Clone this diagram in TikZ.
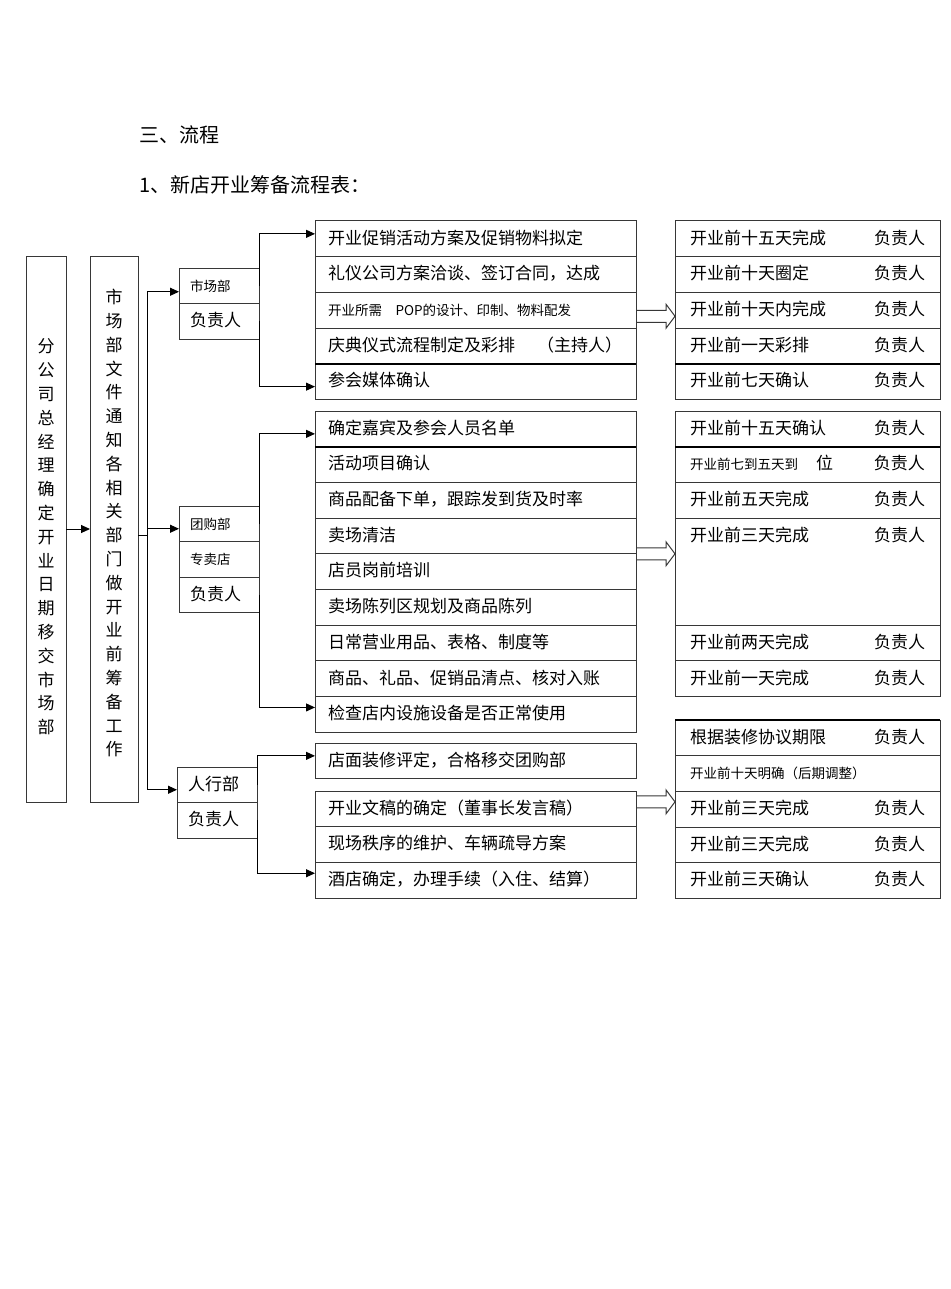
\documentclass[tikz,border=0pt]{standalone}
\usepackage{fontspec}
\setmainfont{Noto Sans CJK SC}
\usetikzlibrary{arrows.meta,positioning,calc}
\definecolor{edge}{RGB}{55,55,55}
\tikzset{
  every picture/.style={font=\fontsize{17}{20}\selectfont},
  cell/.style={draw=edge,line width=1pt,outer sep=0pt,anchor=north west,inner xsep=13pt,inner ysep=0pt,
    minimum height=35.7pt,text height=14pt,text depth=3.5pt,align=left},
  task/.style={cell,text width=295pt},
  due/.style={cell,inner xsep=15pt,text width=235pt},
  dept/.style={cell,inner xsep=11pt,text width=58pt,minimum height=35.5pt},
  tall/.style={draw=edge,line width=1pt,outer sep=0pt,inner sep=0pt,align=center,font=\fontsize{17}{23.8}\selectfont},
  link/.style={line width=1pt,-{Triangle[length=9pt,width=8pt]}},
  hollow/.style={draw=edge,line width=1pt},
  smalltext/.style={font=\fontsize{13.5}{16}\selectfont},
  seam/.style={draw=black,line width=2pt},
}

\begin{document}
\begin{tikzpicture}[x=1pt,y=-1pt,node distance=0pt]
  \useasboundingbox (0,0) rectangle (950,1289);
  \node[anchor=west,font=\fontsize{20}{22}\selectfont] (title) at (136,135) {三、流程};
  \node[anchor=west,font=\fontsize{20}{22}\selectfont] (subtitle) at (136,185) {1、新店开业筹备流程表：};

  \node[tall,minimum width=40pt,minimum height=546pt] (boss) at (46,529)
    {\rule{0pt}{30pt}分\\公\\司\\总\\经\\理\\确\\定\\开\\业\\日\\期\\移\\交\\市\\场\\部};
  \node[tall,minimum width=48pt,minimum height=546pt] (notice) at (114,529)
    {市\\场\\部\\文\\件\\通\\知\\各\\相\\关\\部\\门\\做\\开\\业\\前\\筹\\备\\工\\作\rule[-13pt]{0pt}{1pt}};

  % departments
  \node[dept,smalltext] (mkt) at (179,268) {市场部};
  \node[dept,below=of mkt] (mktr) {负责人};
  \node[dept,smalltext] (grp) at (179,506) {团购部};
  \node[dept,smalltext,below=of grp] (shop) {专卖店};
  \node[dept,below=of shop] (grpr) {负责人};
  \node[dept] (hr) at (177,767) {人行部};
  \node[dept,below=of hr] (hrr) {负责人};

  % market tasks
  \node[task] (m1) at (315,221) {开业促销活动方案及促销物料拟定};
  \node[task,below=of m1] (m2) {礼仪公司方案洽谈、签订合同，达成};
  \node[task,smalltext,below=of m2] (m3) {开业所需\hspace{1em}POP的设计、印制、物料配发};
  \node[task,below=of m3] (m4) {庆典仪式流程制定及彩排\hspace{1.3em}（主持人）};
  \node[task,below=of m4] (m5) {参会媒体确认};
  \node[due] (r1) at (675,221) {开业前十五天完成\hfill 负责人};
  \node[due,below=of r1] (r2) {开业前十天圈定\hfill 负责人};
  \node[due,below=of r2] (r3) {开业前十天内完成\hfill 负责人};
  \node[due,below=of r3] (r4) {开业前一天彩排\hfill 负责人};
  \node[due,below=of r4] (r5) {开业前七天确认\hfill 负责人};

  % group purchase / shop tasks
  \node[task] (g1) at (315,411) {确定嘉宾及参会人员名单};
  \node[task,below=of g1] (g2) {活动项目确认};
  \node[task,below=of g2] (g3) {商品配备下单，跟踪发到货及时率};
  \node[task,below=of g3] (g4) {卖场清洁};
  \node[task,below=of g4] (g5) {店员岗前培训};
  \node[task,below=of g5] (g6) {卖场陈列区规划及商品陈列};
  \node[task,below=of g6] (g7) {日常营业用品、表格、制度等};
  \node[task,below=of g7] (g8) {商品、礼品、促销品清点、核对入账};
  \node[task,below=of g8] (g9) {检查店内设施设备是否正常使用};
  \node[due] (s1) at (675,411) {开业前十五天确认\hfill 负责人};
  \node[due,below=of s1] (s2) {{\fontsize{13.5}{16}\selectfont 开业前七到五天到}\hspace{18pt}位\hfill 负责人};
  \node[due,below=of s2] (s3) {开业前五天完成\hfill 负责人};
  \node[due,below=of s3,minimum height=107.1pt,text depth=74.9pt] (s4) {开业前三天完成\hfill 负责人};
  \node[due,below=of s4] (s5) {开业前两天完成\hfill 负责人};
  \node[due,below=of s5] (s6) {开业前一天完成\hfill 负责人};

  % admin tasks
  \node[task] (h1) at (315,743) {店面装修评定，合格移交团购部};
  \node[task] (h2) at (315,791) {开业文稿的确定（董事长发言稿）};
  \node[task,below=of h2] (h3) {现场秩序的维护、车辆疏导方案};
  \node[task,below=of h3] (h4) {酒店确定，办理手续（入住、结算）};
  \node[due] (q1) at (675,720) {根据装修协议期限\hfill 负责人};
  \node[due,smalltext,below=of q1] (q2) {开业前十天明确（后期调整）};
  \node[due,below=of q2] (q3) {开业前三天完成\hfill 负责人};
  \node[due,below=of q3] (q4) {开业前三天完成\hfill 负责人};
  \node[due,below=of q4] (q5) {开业前三天确认\hfill 负责人};

  \draw[seam] (m4.south west) -- (m4.south east);
  \draw[seam] (r4.south west) -- (r4.south east);
  \draw[seam] (g1.south west) -- (g1.south east);
  \draw[seam] (s1.south west) -- (s1.south east);
  \draw[seam] (q1.north west) -- (q1.north east);

  % connectors
  \draw[link] (boss) -- (notice);
  \coordinate (trunk) at ($(notice.east)+(9,6)$);
  \draw[line width=1pt] (notice.east |- trunk) -- (trunk);
  \draw[line width=1pt] ($(trunk |- mkt.west)+(0,6)$) -- ($(trunk |- hr.west)+(0,5)$);
  \draw[link] ($(trunk |- mkt.west)+(0,6)$) -- ($(mkt.west)+(0,6)$);
  \draw[link] ($(trunk |- grp.west)+(0,5)$) -- ($(grp.west)+(0,5)$);
  \draw[link] ($(trunk |- hr.west)+(0,5)$) -- ($(hr.west)+(0,5)$);

  \draw[link] (mkt.east) |- ($(m1.west)+(0,-5)$);
  \draw[link] (mktr.east) |- ($(m5.west)+(0,5)$);
  \draw[link] (grp.east) |- ($(g1.west)+(0,5)$);
  \draw[link] (grpr.east) |- ($(g9.west)+(0,-7)$);
  \draw[link] (hr.east) |- ($(h1.west)+(0,-5)$);
  \draw[link] (hrr.east) |- ($(h4.west)+(0,-7)$);

  \coordinate (p1) at ($(m3.east)+(0,6)$);
  \coordinate (p2) at (g4.south east);
  \coordinate (p3) at ($(h2.east)+(0,-7)$);
  \draw[hollow] (p1) ++(0,-6) -- ++(30,0) -- ++(0,-6) -- ++(9,12) -- ++(-9,12) -- ++(0,-6) -- ++(-30,0);
  \draw[hollow] (p2) ++(0,-6) -- ++(30,0) -- ++(0,-6) -- ++(9,12) -- ++(-9,12) -- ++(0,-6) -- ++(-30,0);
  \draw[hollow] (p3) ++(0,-6) -- ++(30,0) -- ++(0,-6) -- ++(9,12) -- ++(-9,12) -- ++(0,-6) -- ++(-30,0);
\end{tikzpicture}
\end{document}
